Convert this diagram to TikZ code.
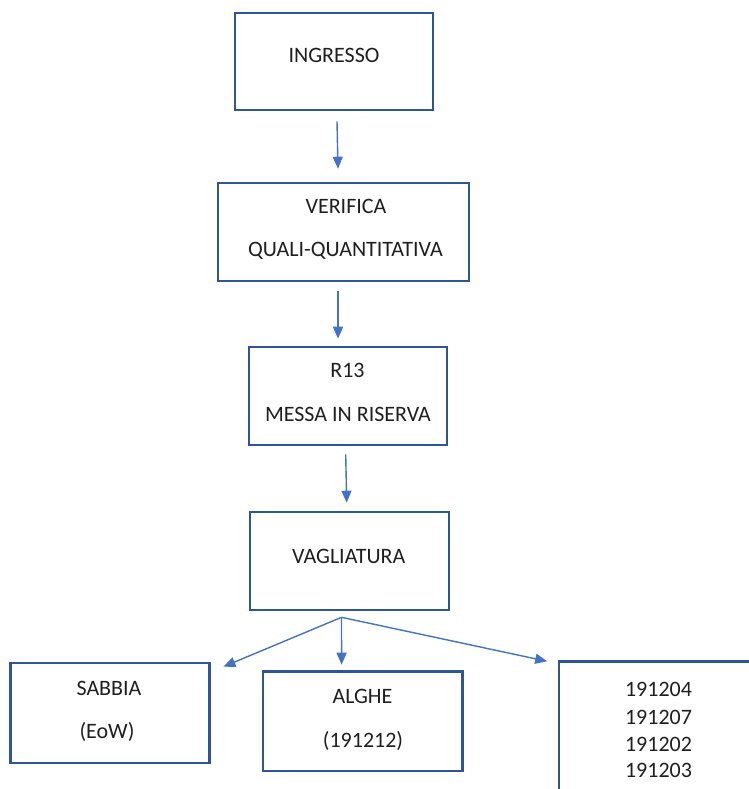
\documentclass[tikz,border=0pt]{standalone}
\usepackage{fontspec}
\setmainfont{Carlito}
\usetikzlibrary{arrows.meta}
\definecolor{boxblue}{HTML}{2F5597}
\definecolor{arrblue}{HTML}{4472C4}
\begin{document}
\begin{tikzpicture}[x=0.5pt,y=-0.5pt,
  box/.style={draw=boxblue,line width=1.3pt,rectangle,inner sep=0pt},
  txt/.style={font=\fontsize{11}{13}\selectfont,inner sep=0pt,anchor=base,text=black!88},
  arr/.style={draw=arrblue,line width=0.7pt,-{Triangle[length=6pt,width=5pt]}}]
\clip (0,0) rectangle (749,789);
% boxes
\node[box,minimum width=99pt,minimum height=48.5pt] (ing) at (334,61.5) {};
\node[box,minimum width=125.5pt,minimum height=49pt] (ver) at (343.5,232) {};
\node[box,minimum width=99pt,minimum height=49pt] (r13) at (348,396) {};
\node[box,minimum width=99.5pt,minimum height=49pt] (vag) at (349.5,561) {};
\node[box,minimum width=99.4pt,minimum height=50pt] (sab) at (110,713) {};
\node[box,minimum width=99.8pt,minimum height=49.6pt] (alg) at (362.6,721.3) {};
\node[box,minimum width=120.5pt,minimum height=94.2pt] (rb) at (679.5,755.8) {};
% texts
\node[txt] (t1) at (334,62) {INGRESSO};
\node[txt] (t2) at (346,213) {VERIFICA};
\node[txt] (t3) at (345.5,256) {QUALI-QUANTITATIVA};
\node[txt] (t4) at (347.5,377) {R13};
\node[txt] (t5) at (348,421) {MESSA IN RISERVA};
\node[txt] (t6) at (348.7,563) {VAGLIATURA};
\node[txt] (t7) at (109,695) {SABBIA};
\node[txt] (t8) at (107,738) {(EoW)};
\node[txt] (t9) at (362.5,703) {ALGHE};
\node[txt] (t10) at (363,747) {(191212)};
\node[txt] (n1) at (658.5,696) {191204};
\node[txt] (n2) at (658.5,724) {191207};
\node[txt] (n3) at (658.5,751) {191202};
\node[txt] (n4) at (658.5,777) {191203};
% connectors
\draw[arr] ([xshift=1.5pt,yshift=-5pt]ing.south) -- ([xshift=-2.75pt,yshift=6.5pt]ver.north);
\draw[arr] ([xshift=-2.75pt,yshift=-4.5pt]ver.south) -- ([xshift=-5pt,yshift=3.5pt]r13.north);
\draw[arr] ([xshift=-1.15pt,yshift=-4pt]r13.south) -- ([xshift=-1.4pt,yshift=4pt]vag.north);
\coordinate (fan) at ([xshift=-4pt,yshift=-3pt]vag.south);
\draw[arr] (fan) -- ([xshift=6.35pt,yshift=-2.5pt]sab.north east);
\draw[arr] (fan) -- ([xshift=-10.5pt,yshift=2.85pt]alg.north);
\draw[arr] (fan) -- ([xshift=-5.25pt,yshift=-0.5pt]rb.north west);
\end{tikzpicture}
\end{document}
